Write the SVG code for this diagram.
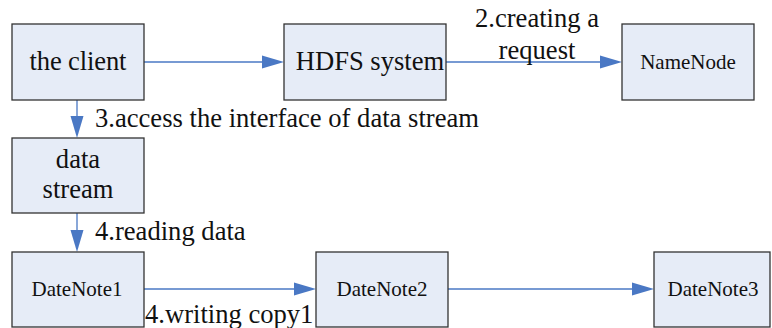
<svg xmlns="http://www.w3.org/2000/svg" width="772" height="328" viewBox="0 0 772 328">
  <style>
    .box { fill: #e6ecf7; stroke: #333333; stroke-width: 1.3; }
    text { font-family: 'Liberation Serif', 'DejaVu Serif', 'Times New Roman', serif; fill: #111111; }
    .big { font-size: 26.6px; }
    .small { font-size: 21px; }
    .mid { text-anchor: middle; }
    .link { stroke: #4a78c4; stroke-width: 1.3; fill: none; }
    .head { fill: #4a78c4; }
  </style>
  <rect width="772" height="328" fill="#ffffff"/>

  <g id="connectors">
    <!-- client -> HDFS system -->
    <line class="link" x1="144" y1="62" x2="263" y2="62"/>
    <polygon class="head" points="284,62 262,55.5 262,68.5"/>
    <!-- HDFS system -> NameNode -->
    <line class="link" x1="446" y1="62" x2="601" y2="62"/>
    <polygon class="head" points="622,62 600,55.5 600,68.5"/>
    <!-- client -> data stream -->
    <line class="link" x1="77" y1="100" x2="77" y2="118"/>
    <polygon class="head" points="77,138 70.5,116 83.5,116"/>
    <!-- data stream -> DateNote1 -->
    <line class="link" x1="77" y1="213" x2="77" y2="232"/>
    <polygon class="head" points="77,252 70.5,230 83.5,230"/>
    <!-- DateNote1 -> DateNote2 -->
    <line class="link" x1="144" y1="289" x2="295" y2="289"/>
    <polygon class="head" points="316,289 294,282.5 294,295.5"/>
    <!-- DateNote2 -> DateNote3 -->
    <line class="link" x1="448" y1="289" x2="633" y2="289"/>
    <polygon class="head" points="654,289 632,282.5 632,295.5"/>

    <text class="big mid" x="537" y="27">2.creating a</text>
    <text class="big mid" x="537" y="59">request</text>
    <text class="big" x="95" y="127">3.access the interface of data stream</text>
    <text class="big" x="95" y="240">4.reading data</text>
    <text class="big" x="145" y="323">4.writing copy1</text>
  </g>

  <g id="client">
    <rect class="box" x="12" y="24" width="132" height="76"/>
    <text class="big mid" x="78" y="70" textLength="97" lengthAdjust="spacing">the client</text>
  </g>

  <g id="hdfs">
    <rect class="box" x="284" y="24" width="162" height="76"/>
    <text class="big mid" x="370" y="70">HDFS system</text>
  </g>

  <g id="namenode">
    <rect class="box" x="622" y="24" width="132" height="76"/>
    <text class="small mid" x="688" y="69">NameNode</text>
  </g>

  <g id="datastream">
    <rect class="box" x="12" y="138" width="132" height="75"/>
    <text class="big mid" x="78" y="168">data</text>
    <text class="big mid" x="78" y="198">stream</text>
  </g>

  <g id="datenote1">
    <rect class="box" x="12" y="252" width="132" height="75"/>
    <text class="small mid" x="77" y="296">DateNote1</text>
  </g>

  <g id="datenote2">
    <rect class="box" x="316" y="252" width="132" height="75"/>
    <text class="small mid" x="382" y="296">DateNote2</text>
  </g>

  <g id="datenote3">
    <rect class="box" x="654" y="252" width="116" height="75"/>
    <text class="small mid" x="713" y="296">DateNote3</text>
  </g>
</svg>
